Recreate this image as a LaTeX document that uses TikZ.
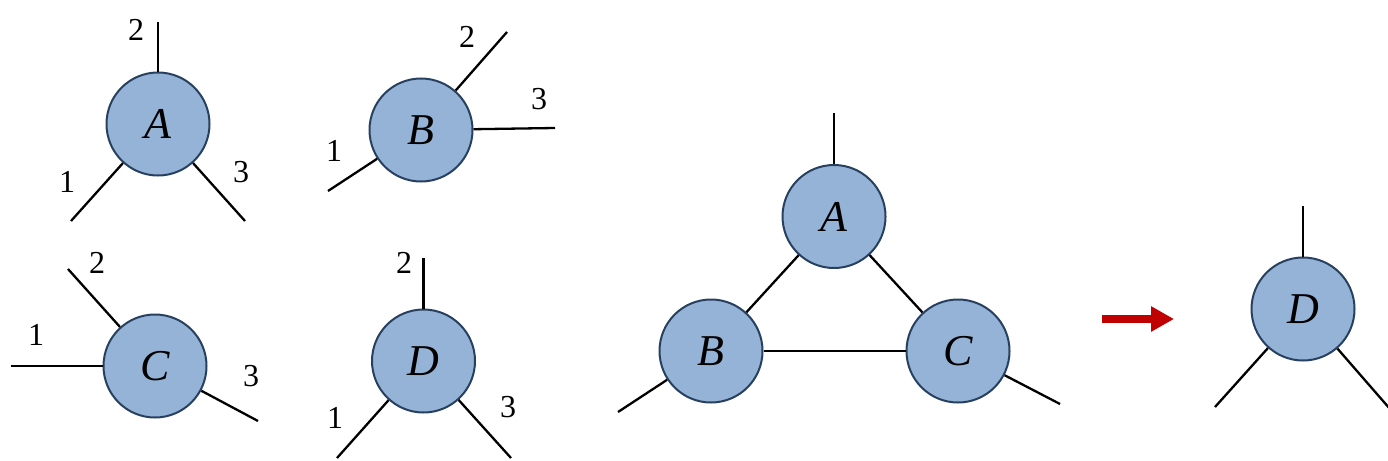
\documentclass[tikz,border=0pt]{standalone}
\usepackage{fontspec}
\setmainfont{Liberation Serif}
\usetikzlibrary{arrows.meta}
\definecolor{ballfill}{HTML}{95B3D7}
\definecolor{balledge}{HTML}{27405F}
\definecolor{arrred}{HTML}{C00000}
\tikzset{
  ball/.style={circle, fill=ballfill, draw=balledge, line width=2pt, minimum size=103pt, inner sep=0pt, font=\fontsize{44}{46}\selectfont\itshape},
  leg/.style={line width=2.3pt, black},
  num/.style={font=\fontsize{32}{34}\selectfont, inner sep=0pt},
}
\begin{document}
\begin{tikzpicture}[x=1pt, y=-1pt]
\useasboundingbox (0,0) rectangle (1388,460);
% ---------- single A ----------
\node[ball] (a1) at (158,124) {A};
\coordinate (a1t) at (158,22);
\coordinate (a1l) at (71,221);
\coordinate (a1r) at (245,221);
\draw[leg] (a1) -- (a1t);
\draw[leg] (a1) -- (a1l);
\draw[leg] (a1) -- (a1r);
\node[num] (a1n2) at (136,30) {2};
\node[num] (a1n1) at (67,182) {1};
\node[num] (a1n3) at (241,172) {3};
% ---------- single B ----------
\node[ball] (b1) at (421,130) {B};
\coordinate (b1t) at (507,32);
\coordinate (b1r) at (555,128);
\coordinate (b1l) at (328,191);
\draw[leg] (b1) -- (b1t);
\draw[leg] (b1) -- (b1r);
\draw[leg] (b1) -- (b1l);
\node[num] (b1n2) at (467,37) {2};
\node[num] (b1n3) at (539,99) {3};
\node[num] (b1n1) at (334,151) {1};
% ---------- single C ----------
\node[ball] (c1) at (155,366) {C};
\coordinate (c1l) at (11,366);
\coordinate (c1t) at (68,269);
\coordinate (c1r) at (258,421);
\draw[leg] (c1) -- (c1l);
\draw[leg] (c1) -- (c1t);
\draw[leg] (c1) -- (c1r);
\node[num] (c1n2) at (97,263) {2};
\node[num] (c1n1) at (36,335) {1};
\node[num] (c1n3) at (251,376) {3};
% ---------- single D ----------
\node[ball] (d1) at (423.5,361) {D};
\coordinate (d1t) at (423.5,258);
\coordinate (d1l) at (337,458);
\coordinate (d1r) at (511,458);
\draw[leg] (d1) -- (d1t);
\draw[leg] (d1) -- (d1l);
\draw[leg] (d1) -- (d1r);
\node[num] (d1n2) at (404,263) {2};
\node[num] (d1n1) at (335,418) {1};
\node[num] (d1n3) at (508,407) {3};
% ---------- triangle ----------
\node[ball] (ta) at (834,216.5) {A};
\node[ball] (tb) at (711,351) {B};
\node[ball] (tc) at (958,351) {C};
\coordinate (tat) at (834,113);
\coordinate (tbl) at (618,412);
\coordinate (tcr) at (1060,404);
\draw[leg] (ta) -- (tat);
\draw[leg] (tb) -- (tbl);
\draw[leg] (tc) -- (tcr);
\draw[leg] (ta) -- (tb);
\draw[leg] (ta) -- (tc);
\draw[leg] (tb) -- (tc);
% ---------- arrow ----------
\coordinate (arrs) at (1102,319);
\coordinate (arre) at (1174,319);
\draw[line width=8pt, arrred, -{Triangle[length=23pt, width=24pt]}] (arrs) -- (arre);
% ---------- result D ----------
\node[ball] (rd) at (1303,309) {D};
\coordinate (rdt) at (1303,206);
\coordinate (rdl) at (1215,407);
\coordinate (rdr) at (1390,409);
\draw[leg] (rd) -- (rdt);
\draw[leg] (rd) -- (rdl);
\draw[leg] (rd) -- (rdr);
\end{tikzpicture}
\end{document}
